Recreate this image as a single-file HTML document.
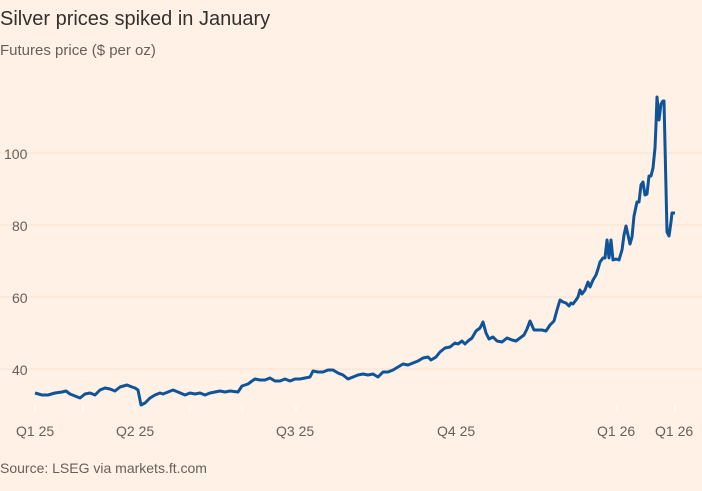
<!DOCTYPE html>
<html><head><meta charset="utf-8"><style>
body{margin:0;background:#FFF1E5;width:702px;height:486px;overflow:hidden;font-family:"Liberation Sans",sans-serif}
</style></head><body>
<svg width="702" height="486" xmlns="http://www.w3.org/2000/svg">
<rect width="702" height="486" fill="#FFF1E5"/>
<text x="0" y="25" font-size="20" fill="#33302e">Silver prices spiked in January</text>
<text x="0" y="55" font-size="15" fill="#66605c">Futures price ($ per oz)</text>
<g stroke="#f7e3d4" stroke-width="1">
<line x1="0" y1="153" x2="702" y2="153"/><line x1="0" y1="225" x2="702" y2="225"/>
<line x1="0" y1="297" x2="702" y2="297"/><line x1="0" y1="369" x2="702" y2="369"/>
</g>
<g stroke="#ffffff" stroke-width="1">
<line x1="35" y1="405" x2="35" y2="412"/><line x1="83" y1="405" x2="83" y2="412"/><line x1="135" y1="405" x2="135" y2="412"/><line x1="190" y1="405" x2="190" y2="412"/><line x1="242" y1="405" x2="242" y2="412"/><line x1="296" y1="405" x2="296" y2="412"/><line x1="617" y1="405" x2="617" y2="412"/><line x1="675" y1="405" x2="675" y2="412"/>
</g>
<g font-size="14" fill="#66605c">
<text x="4" y="159">100</text><text x="12" y="231">80</text><text x="12" y="303">60</text><text x="12" y="375">40</text>
<text x="16" y="436">Q1 25</text><text x="116" y="436">Q2 25</text><text x="276" y="436">Q3 25</text><text x="437" y="436">Q4 25</text><text x="597" y="436">Q1 26</text><text x="655" y="436">Q1 26</text>
<text x="0" y="473">Source: LSEG via markets.ft.com</text>
</g>
<polyline fill="none" stroke="#0f5499" stroke-width="3" stroke-linejoin="round" points="35,393 42,395 48,395 55,393 62,392 66,391 70,394 75,396 80,398 85,394 90,393 95,395 100,390 105,388 110,389 115,391 120,387 127,385 132,387 135,388 138,390 141,405 145,403 150,398 155,395 160,393 163,394 168,392 173,390 178,392 185,395 190,393 195,394 200,393 205,395 210,393 215,392 220,391 225,392 230,391 238,392 242,386 248,384 252,381 255,379 260,380 265,380 270,378 275,381 280,381 285,379 290,381 295,379 300,379 305,378 310,377 313,371 318,372 323,372 328,370 333,370 338,373 343,375 348,379 353,377 358,375 363,374 368,375 373,374 378,377 383,372 388,372 393,370 398,367 403,364 408,365 413,363 418,361 423,358 428,357 431,360 436,357 440,352 445,348 450,347 455,343 458,344 462,341 465,344 468,341 472,338 476,331 480,328 483,322 486,333 489,339 493,337 497,341 502,342 507,338 512,340 516,341 520,338 524,335 527,329 530,321 534,330 538,330 542,330 546,331 550,325 554,321 557,310 560,300 563,302 566,303 569,306 571,303 573,304 576,300 578,297 580,290 582,294 585,290 588,282 590,287 593,280 596,275 598,269 600,262 603,258 605,258 607,240 609,258 611,240 613,260 616,259 619,260 622,250 624,235 626,226 628,235 630,244 632,237 634,216 637,202 639,202 641,185 643,182 645,195 647,194 649,176 651,176 653,168 655,148 656,125 657,97 659,120 661,104 663,101 664,101 667,232 669,236 671,222 672,213 675,213"/>
</svg>
</body></html>
